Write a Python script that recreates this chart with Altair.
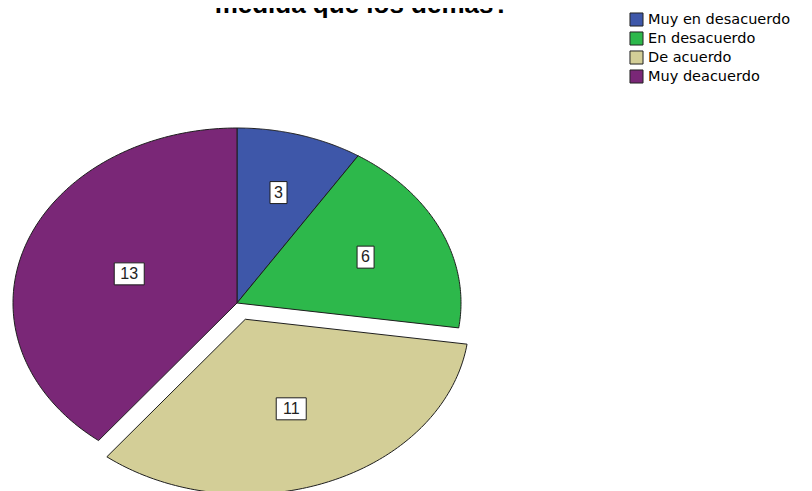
import altair as alt
import pandas as pd

# Data
CATS = ["Muy en desacuerdo", "En desacuerdo", "De acuerdo", "Muy deacuerdo"]
VALUES = [3, 6, 11, 13]
COLORS = ["#3E57A9", "#2DB84B", "#D3CE97", "#7A2777"]
EXPLODED = ["De acuerdo"]
TITLE_TEXT = "medida que los demás?"

df = pd.DataFrame({
    "cat": CATS,
    "val": VALUES,
    "order": list(range(len(CATS))),
    "exp": [1 if c in EXPLODED else 0 for c in CATS],
})

RX, RY = 224, 175      # ellipse radii (pixels)
N = 120                # arc resolution
W, H = 796, 483
XDOM = [-229, W - 229]
YDOM = [295 - H, 295]

xs = alt.Scale(domain=XDOM, nice=False, zero=False)
ys = alt.Scale(domain=YDOM, nice=False, zero=False)

base = (
    alt.Chart(df)
    .transform_window(cum="sum(val)", sort=[alt.SortField("order")], frame=[None, 0])
    .transform_joinaggregate(total="sum(val)")
    .transform_calculate(
        a0="2*PI*(datum.cum - datum.val)/datum.total",
        th="2*PI*datum.val/datum.total",
    )
    .transform_calculate(mid="datum.a0 + datum.th/2")
    .transform_calculate(
        ox=f"datum.exp * 0.1 * {RX} * sin(datum.mid)",
        oy=f"datum.exp * 0.1 * {RY} * cos(datum.mid)",
    )
)

slices = (
    base.transform_calculate(s=f"sequence(0, {N + 3})")
    .transform_flatten(["s"])
    .transform_calculate(
        px=f"(datum.s == 0 || datum.s == {N + 2}) ? datum.ox : datum.ox + {RX}*sin(datum.a0 + datum.th*(datum.s-1)/{N})",
        py=f"(datum.s == 0 || datum.s == {N + 2}) ? datum.oy : datum.oy + {RY}*cos(datum.a0 + datum.th*(datum.s-1)/{N})",
    )
    .mark_line(stroke="#1e1e1e", strokeWidth=1, strokeJoin="round")
    .encode(
        x=alt.X("px:Q", scale=xs, axis=None),
        y=alt.Y("py:Q", scale=ys, axis=None),
        detail="cat:N",
        order="s:Q",
        fill=alt.Fill(
            "cat:N",
            scale=alt.Scale(domain=CATS, range=COLORS),
            sort=CATS,
            legend=alt.Legend(
                title=None,
                orient="none",
                legendX=621,
                legendY=4,
                symbolType="square",
                symbolSize=170,
                symbolStrokeColor="#222222",
                symbolStrokeWidth=1,
                symbolOpacity=1,
                labelFont="DejaVu Sans",
                labelFontSize=14.5,
                labelColor="black",
                rowPadding=0,
                labelOffset=4,
            ),
        ),
    )
)

lab = base.transform_calculate(
    d="4*sin(datum.th/2)/(3*datum.th)"
).transform_calculate(
    lx=f"datum.ox + {RX}*datum.d*sin(datum.mid)",
    ly=f"datum.oy + {RY}*datum.d*cos(datum.mid)",
    w="4 + 13*length(toString(datum.val))",
).transform_calculate(
    bx1="datum.lx - datum.w/2",
    bx2="datum.lx + datum.w/2",
    by1="datum.ly - 11",
    by2="datum.ly + 11",
)

boxes = lab.mark_rect(fill="white", stroke="#1e1e1e", strokeWidth=1).encode(
    x=alt.X("bx1:Q", scale=xs, axis=None),
    x2="bx2:Q",
    y=alt.Y("by1:Q", scale=ys, axis=None),
    y2="by2:Q",
)

texts = lab.mark_text(
    font="Liberation Sans", fontSize=16, color="#222222", baseline="middle", align="center"
).encode(
    x=alt.X("lx:Q", scale=xs, axis=None),
    y=alt.Y("ly:Q", scale=ys, axis=None),
    text="val:Q",
)

title = alt.Chart(pd.DataFrame({"t": [TITLE_TEXT]})).mark_text(
    font="Liberation Sans", fontSize=26, fontWeight="bold", color="black",
    baseline="alphabetic", align="center",
).encode(x=alt.value(354), y=alt.value(5), text="t:N")

chart = (
    alt.layer(slices, boxes, texts, title)
    .properties(width=W, height=H, padding=0, autosize=alt.AutoSizeParams(type="none"))
    .configure_view(stroke=None)
)

chart.save("out.html", embed_options={"renderer": "svg", "actions": False})
